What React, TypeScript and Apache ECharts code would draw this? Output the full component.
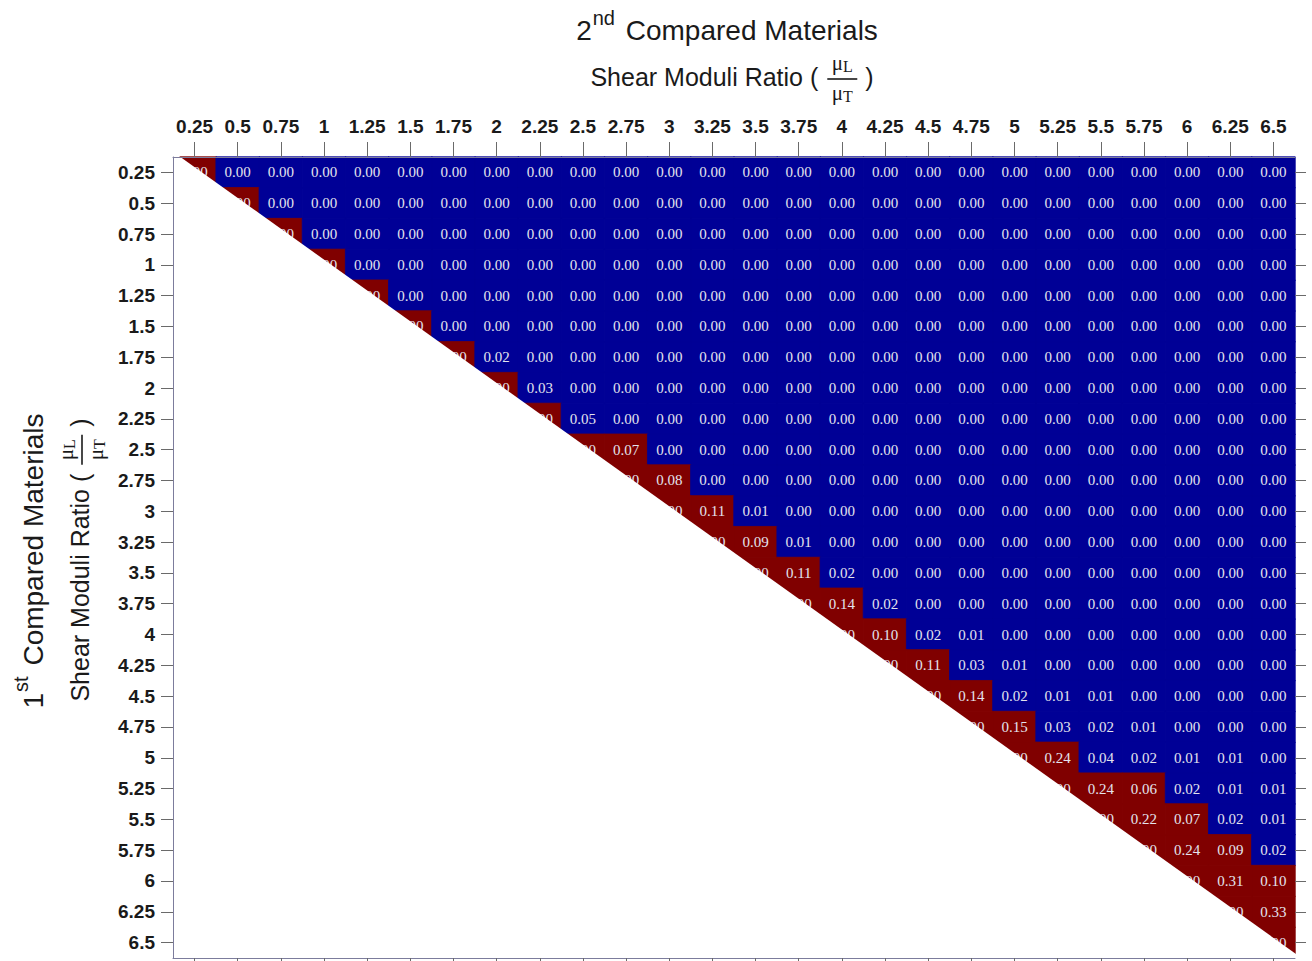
import React, { useEffect, useRef } from 'react';
import * as echarts from 'echarts';

// Shear moduli ratio (muL / muT) of the compared materials, shared by both axes
const ratioLabels = [
  '0.25', '0.5', '0.75', '1', '1.25', '1.5', '1.75', '2', '2.25', '2.5', '2.75', '3', '3.25',
  '3.5', '3.75', '4', '4.25', '4.5', '4.75', '5', '5.25', '5.5', '5.75', '6', '6.25', '6.5',
];

// Each row starts on its diagonal cell (material compared with itself) and runs to the last column
const comparisonRows: number[][] = [
  [1, 0, 0, 0, 0, 0, 0, 0, 0, 0, 0, 0, 0, 0, 0, 0, 0, 0, 0, 0, 0, 0, 0, 0, 0, 0],
  [1, 0, 0, 0, 0, 0, 0, 0, 0, 0, 0, 0, 0, 0, 0, 0, 0, 0, 0, 0, 0, 0, 0, 0, 0],
  [1, 0, 0, 0, 0, 0, 0, 0, 0, 0, 0, 0, 0, 0, 0, 0, 0, 0, 0, 0, 0, 0, 0, 0],
  [1, 0, 0, 0, 0, 0, 0, 0, 0, 0, 0, 0, 0, 0, 0, 0, 0, 0, 0, 0, 0, 0, 0],
  [1, 0, 0, 0, 0, 0, 0, 0, 0, 0, 0, 0, 0, 0, 0, 0, 0, 0, 0, 0, 0, 0],
  [1, 0, 0, 0, 0, 0, 0, 0, 0, 0, 0, 0, 0, 0, 0, 0, 0, 0, 0, 0, 0],
  [1, 0.02, 0, 0, 0, 0, 0, 0, 0, 0, 0, 0, 0, 0, 0, 0, 0, 0, 0, 0],
  [1, 0.03, 0, 0, 0, 0, 0, 0, 0, 0, 0, 0, 0, 0, 0, 0, 0, 0, 0],
  [1, 0.05, 0, 0, 0, 0, 0, 0, 0, 0, 0, 0, 0, 0, 0, 0, 0, 0],
  [1, 0.07, 0, 0, 0, 0, 0, 0, 0, 0, 0, 0, 0, 0, 0, 0, 0],
  [1, 0.08, 0, 0, 0, 0, 0, 0, 0, 0, 0, 0, 0, 0, 0, 0],
  [1, 0.11, 0.01, 0, 0, 0, 0, 0, 0, 0, 0, 0, 0, 0, 0],
  [1, 0.09, 0.01, 0, 0, 0, 0, 0, 0, 0, 0, 0, 0, 0],
  [1, 0.11, 0.02, 0, 0, 0, 0, 0, 0, 0, 0, 0, 0],
  [1, 0.14, 0.02, 0, 0, 0, 0, 0, 0, 0, 0, 0],
  [1, 0.10, 0.02, 0.01, 0, 0, 0, 0, 0, 0, 0],
  [1, 0.11, 0.03, 0.01, 0, 0, 0, 0, 0, 0],
  [1, 0.14, 0.02, 0.01, 0.01, 0, 0, 0, 0],
  [1, 0.15, 0.03, 0.02, 0.01, 0, 0, 0],
  [1, 0.24, 0.04, 0.02, 0.01, 0.01, 0],
  [1, 0.24, 0.06, 0.02, 0.01, 0.01],
  [1, 0.22, 0.07, 0.02, 0.01],
  [1, 0.24, 0.09, 0.02],
  [1, 0.31, 0.10],
  [1, 0.33],
  [1],
];

const BLUE = '#000096';
const RED = '#800000';
const SIGNIFICANT = 0.055;

// plot rectangle in page pixels
const L = 173;
const T = 157;
const W = 1122;
const H = 801;

const SANS = '"Liberation Sans", Arial, sans-serif';
const SERIF = '"Liberation Serif", "Times New Roman", serif';

let measureCtx: CanvasRenderingContext2D | null = null;
function textWidth(text: string, font: string): number {
  if (!measureCtx) measureCtx = document.createElement('canvas').getContext('2d');
  if (!measureCtx) return text.length * 10;
  measureCtx.font = font;
  return measureCtx.measureText(text).width;
}

function txt(x: number, y: number, text: string, size: number, family: string, weight = 'normal') {
  return {
    type: 'text',
    x,
    y,
    silent: true,
    style: {
      text,
      fontSize: size,
      fontFamily: family,
      fontWeight: weight,
      fill: '#1a1a1a',
      align: 'left',
      verticalAlign: 'middle',
      textAlign: 'left',
      textVerticalAlign: 'middle',
    },
  };
}

// "1st / 2nd Compared Materials" with a raised ordinal suffix
function titleGroup(x: number, y: number, rotation: number, lead: string, sup: string) {
  const big = 28;
  const small = 20;
  const rest = ' Compared Materials';
  const w1 = textWidth(lead, `${big}px ${SANS}`);
  const w2 = textWidth(sup, `${small}px ${SANS}`) + 4;
  const w3 = textWidth(rest, `${big}px ${SANS}`);
  const x0 = -(w1 + w2 + w3) / 2;
  return {
    type: 'group',
    x,
    y,
    rotation,
    children: [
      txt(x0, 0, lead, big, SANS),
      txt(x0 + w1 + 1, -12, sup, small, SANS),
      txt(x0 + w1 + w2, 0, rest, big, SANS),
    ],
  };
}

// "Shear Moduli Ratio ( muL / muT )" with a stacked fraction
function ratioGroup(x: number, y: number, rotation: number) {
  const size = 25;
  const lead = 'Shear Moduli Ratio (';
  const w1 = textWidth(lead, `${size}px ${SANS}`);
  const wClose = textWidth(')', `${size}px ${SANS}`);
  const gap = 9;
  const barW = 30;
  const gap2 = 8;
  const total = w1 + gap + barW + gap2 + wClose;
  const x0 = -total / 2;
  const fx = x0 + w1 + gap;
  const muW = textWidth('\u03bc', `21px ${SERIF}`);
  const part = (cy: number, sub: string) => {
    const sw = textWidth(sub, `16px ${SERIF}`);
    const sx = fx + (barW - (muW + sw)) / 2;
    return [txt(sx, cy, '\u03bc', 21, SERIF), txt(sx + muW, cy + 3, sub, 16, SERIF)];
  };
  return {
    type: 'group',
    x,
    y,
    rotation,
    children: [
      txt(x0, 0, lead, size, SANS),
      ...part(-14, 'L'),
      {
        type: 'line',
        silent: true,
        shape: { x1: fx, y1: 2, x2: fx + barW, y2: 2 },
        style: { stroke: '#1a1a1a', lineWidth: 1.6 },
      },
      ...part(16, 'T'),
      txt(fx + barW + gap2, 0, ')', size, SANS),
    ],
  };
}

export default function App() {
  const ref = useRef<HTMLDivElement>(null);

  useEffect(() => {
    if (!ref.current) return;
    const chart = echarts.init(ref.current, null, { renderer: 'svg' });

    // cells carry a border in their own colour so neighbouring cells join without seams
    const data: any[] = [];
    comparisonRows.forEach((row, i) => {
      row.forEach((v, k) => {
        const c = v >= SIGNIFICANT ? RED : BLUE;
        data.push({
          value: [i + k, i, v],
          itemStyle: { borderColor: c, borderWidth: 0.8 },
        });
      });
    });

    const axisLine = { show: true, lineStyle: { color: '#7c7c9c', width: 1 } };
    const tickStyle = { color: '#6a6a6a', width: 1 };
    const labelFont = {
      fontFamily: SANS,
      fontWeight: 'bold',
      fontSize: 19,
      color: '#1a1a1a',
    };

    chart.setOption({
      animation: false,
      grid: { left: L, top: T, width: W, height: H, outerBoundsMode: 'none' },
      xAxis: [
        {
          type: 'category',
          data: ratioLabels,
          position: 'top',
          z: 10,
          axisLine,
          axisTick: { show: true, alignWithLabel: true, length: 15, lineStyle: tickStyle },
          axisLabel: { ...labelFont, interval: 0, margin: 21 },
          splitLine: { show: false },
        },
        {
          type: 'category',
          data: ratioLabels,
          position: 'bottom',
          z: 10,
          axisLine,
          axisTick: { show: true, alignWithLabel: true, length: 5, lineStyle: tickStyle },
          axisLabel: { show: false },
          splitLine: { show: false },
        },
      ],
      yAxis: [
        {
          type: 'category',
          data: ratioLabels,
          inverse: true,
          position: 'left',
          z: 10,
          axisLine,
          axisTick: { show: true, alignWithLabel: true, length: 12, lineStyle: tickStyle },
          axisLabel: { ...labelFont, interval: 0, margin: 18 },
          splitLine: { show: false },
        },
        {
          type: 'category',
          data: ratioLabels,
          inverse: true,
          position: 'right',
          z: 10,
          axisLine: { show: false },
          axisTick: { show: true, alignWithLabel: true, length: 11, lineStyle: tickStyle },
          axisLabel: { show: false },
          splitLine: { show: false },
        },
      ],
      visualMap: {
        type: 'piecewise',
        show: false,
        dimension: 2,
        seriesIndex: 0,
        pieces: [
          { lt: SIGNIFICANT, color: BLUE },
          { gte: SIGNIFICANT, color: RED },
        ],
      },
      series: [
        {
          type: 'heatmap',
          xAxisIndex: 0,
          yAxisIndex: 0,
          data,
          emphasis: { disabled: true },
          label: {
            show: true,
            formatter: (p: any) => Number(p.value[2]).toFixed(2),
            fontFamily: SERIF,
            fontSize: 15,
            color: '#e4e4ee',
          },
        },
      ],
      graphic: {
        elements: [
          {
            // blank lower triangle below the diagonal
            type: 'polygon',
            z: 5,
            silent: true,
            shape: {
              points: [
                [L - 2, T - 1],
                [L + 6, T - 1],
                [L + W + 1, T + H - 4],
                [L + W + 1, T + H + 2],
                [L - 2, T + H + 2],
              ],
            },
            style: { fill: '#ffffff' },
          },
          titleGroup(727, 30, 0, '2', 'nd'),
          ratioGroup(732, 77, 0),
          titleGroup(33, 561, Math.PI / 2, '1', 'st'),
          ratioGroup(80, 560, Math.PI / 2),
        ],
      },
    });

    return () => chart.dispose();
  }, []);

  return (
    <div
      ref={ref}
      style={{ position: 'fixed', left: 0, top: 0, width: 1312, height: 961, background: '#ffffff' }}
    />
  );
}
